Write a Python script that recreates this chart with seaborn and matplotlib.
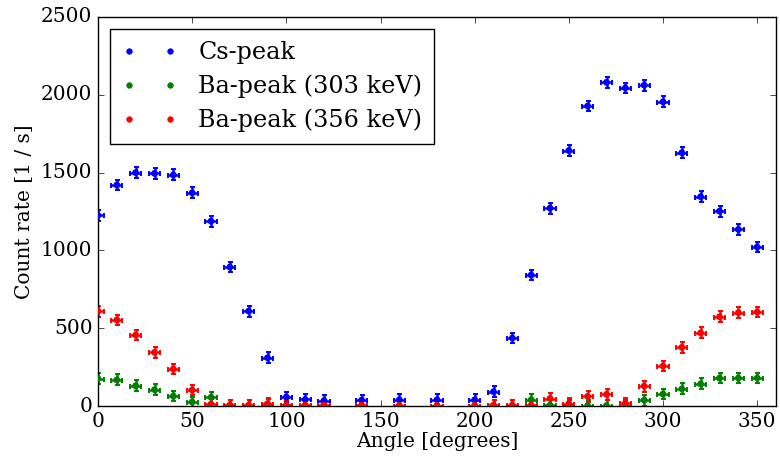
import numpy as np
import pandas as pd
import matplotlib
matplotlib.use("Agg")
import matplotlib.pyplot as plt
import seaborn as sns
from matplotlib.lines import Line2D

angles = [0, 10, 20, 30, 40, 50, 60, 70, 80, 90, 100, 110, 120, 140, 160, 180,
          200, 210, 220, 230, 240, 250, 260, 270, 280, 290, 300, 310, 320, 330, 340, 350]
cs_peak = [1225, 1420, 1500, 1495, 1485, 1370, 1188, 893, 610, 310, 58, 42, 35, 38, 40, 40,
           40, 92, 437, 842, 1272, 1642, 1928, 2080, 2044, 2062, 1955, 1628, 1345, 1252, 1135, 1022]
ba303 = [176, 168, 130, 105, 64, 26, 56, 5, 3, 12, 4, 3, 3, 3, 3, 3,
         3, 3, 3, 40, 5, 5, 3, 3, 3, 38, 77, 110, 142, 180, 180, 180]
ba356 = [610, 553, 456, 345, 238, 103, 12, 5, 5, 15, 5, 5, 5, 5, 3, 3,
         3, 5, 5, 5, 48, 15, 62, 75, 18, 128, 257, 377, 470, 574, 600, 604]
labels = ["Cs-peak", "Ba-peak (303 keV)", "Ba-peak (356 keV)"]
colors = ["#0000ff", "#008000", "#ff0000"]

x_err = 3.0
y_err = 35.0

plt.style.use("classic")
plt.rcParams["font.family"] = ["DejaVu Serif"]
plt.rcParams["figure.facecolor"] = "white"
plt.rcParams["savefig.facecolor"] = "white"

fig = plt.figure(figsize=(7.8, 4.61), dpi=100)
ax = fig.add_axes([98 / 780, 55 / 461, 678 / 780, 389 / 461])

rows = []
for lab, vals in zip(labels, [cs_peak, ba303, ba356]):
    for a, v in zip(angles, vals):
        rows.append({"Angle": a, "Rate": v, "Peak": lab})
df = pd.DataFrame(rows)

for lab, col in zip(labels, colors):
    sub = df[df["Peak"] == lab]
    ax.errorbar(sub["Angle"], sub["Rate"], xerr=x_err, yerr=y_err, fmt="none",
                ecolor=col, elinewidth=1.8, capsize=1.8, capthick=1.4, zorder=2)

sns.scatterplot(data=df, x="Angle", y="Rate", hue="Peak", palette=colors,
                hue_order=labels, s=24, edgecolor="none", linewidth=0, ax=ax,
                legend=False, zorder=3)

handles = [Line2D([0], [0], color=c, marker=".", linestyle="none", markersize=8)
           for c in colors]
ax.legend(handles, labels, loc="upper left", numpoints=2, fontsize=17.2,
          frameon=True, fancybox=False, borderaxespad=0.5, handlelength=2.3,
          handletextpad=0.9, borderpad=0.5, labelspacing=0.45,
          bbox_to_anchor=(0.0, 1.0))

ax.set_xlim(0, 360)
ax.set_ylim(0, 2500)
ax.set_xticks([0, 50, 100, 150, 200, 250, 300, 350])
ax.set_yticks([0, 500, 1000, 1500, 2000, 2500])
ax.tick_params(labelsize=14.5, direction="in", top=True, right=True)
ax.set_xlabel("Angle [degrees]", fontsize=14.5, labelpad=1)
ax.set_ylabel("Count rate [1 / s]", fontsize=14.5)

fig.savefig("out.png", dpi=100)
